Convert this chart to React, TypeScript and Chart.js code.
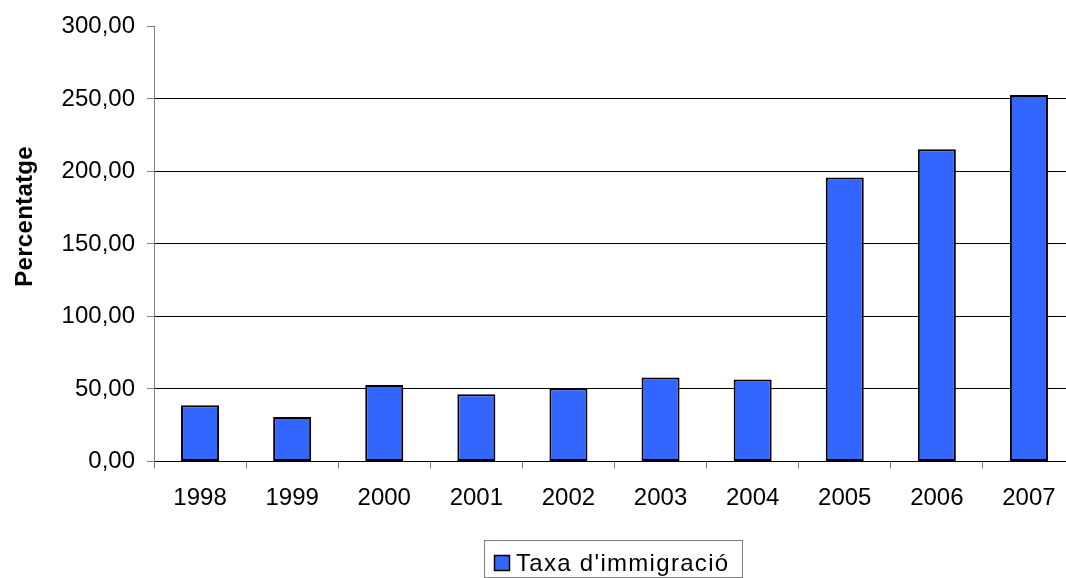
import React, { useEffect, useRef } from "react";
import { Chart, registerables } from "chart.js";

Chart.register(...registerables);

const years = ["1998", "1999", "2000", "2001", "2002", "2003", "2004", "2005", "2006", "2007"];
const immigrationRate = [38.8, 30.7, 52.8, 46.3, 50.5, 58.0, 56.6, 195.9, 215.3, 252.7];
const seriesLabel = "Taxa d'immigració";
const axisTitle = "Percentatge";
const yMin = 0;
const yMax = 300;
const yStep = 50;

const FONT = "'Liberation Sans', Arial, sans-serif";
const BAR_COLOR = "#3366FF";

const customDecor = {
  id: "customDecor",
  afterDraw(chart: any) {
    const ctx = chart.ctx as CanvasRenderingContext2D;
    const area = chart.chartArea;
    // Axis title (rotated)
    ctx.save();
    ctx.fillStyle = "#000";
    ctx.font = `bold 24px ${FONT}`;
    (ctx as any).letterSpacing = "0.3px";
    ctx.textAlign = "center";
    ctx.textBaseline = "alphabetic";
    ctx.translate(32, area.top + 190);
    ctx.rotate(-Math.PI / 2);
    ctx.fillText(axisTitle, 0, 0);
    ctx.restore();

    // Legend box
    const ds = chart.data.datasets[0];
    const cx = (area.left + area.right) / 2;
    const boxW = 258;
    const boxH = 37;
    const left = Math.round(cx - boxW / 2) - 1.5;
    const top = 540.5;
    ctx.save();
    ctx.strokeStyle = "#808080";
    ctx.lineWidth = 1;
    ctx.strokeRect(left, top, boxW, boxH);
    // marker
    ctx.fillStyle = ds.backgroundColor;
    ctx.fillRect(left + 10, top + 15, 15, 15);
    ctx.strokeStyle = "#000";
    ctx.lineWidth = 1.5;
    ctx.strokeRect(left + 10, top + 15, 15, 15);
    // text
    ctx.fillStyle = "#000";
    ctx.font = `24px ${FONT}`;
    (ctx as any).letterSpacing = "1.3px";
    ctx.textAlign = "left";
    ctx.textBaseline = "alphabetic";
    ctx.fillText(ds.label, left + 31.5, top + 30);
    ctx.restore();
  },
};

export default function App() {
  const canvasRef = useRef<HTMLCanvasElement | null>(null);

  useEffect(() => {
    const canvas = canvasRef.current;
    if (!canvas) return;
    const chart = new Chart(canvas, {
      type: "bar",
      data: {
        labels: years,
        datasets: [
          {
            label: seriesLabel,
            data: immigrationRate,
            backgroundColor: BAR_COLOR,
            borderColor: "#000",
            borderWidth: 2,
            borderSkipped: false,
            barPercentage: 0.413,
            categoryPercentage: 1,
          },
        ],
      },
      options: {
        responsive: false,
        animation: false,
        devicePixelRatio: 1,
        layout: { padding: { left: 0, right: 5, top: 23, bottom: 66.5 } },
        plugins: {
          legend: { display: false },
          tooltip: { enabled: false },
          title: { display: false },
        },
        scales: {
          x: {
            afterFit: (scale: any) => {
              scale.height = 50;
            },
            grid: {
              offset: true,
              drawOnChartArea: false,
              drawTicks: true,
              tickLength: 7,
              color: "#808080",
            },
            border: { display: true, color: "#000" },
            ticks: {
              color: "#000",
              font: { family: FONT, size: 24 },
              padding: 15,
              maxRotation: 0,
              autoSkip: false,
            },
          },
          y: {
            min: yMin,
            max: yMax,
            afterFit: (scale: any) => {
              scale.width = 154;
            },
            grid: {
              color: (c: any) => (c.tick && c.tick.value === yMax ? "rgba(0,0,0,0)" : "#000"),
              lineWidth: 1,
              drawTicks: true,
              tickLength: 7,
              tickColor: "#808080",
            },
            border: { display: true, color: "#808080" },
            ticks: {
              stepSize: yStep,
              color: "#000",
              font: { family: FONT, size: 24 },
              padding: 12,
              callback: (v: any) => Number(v).toFixed(2).replace(".", ","),
            },
          },
        },
      },
      plugins: [customDecor],
    });
    return () => chart.destroy();
  }, []);

  return (
    <div
      style={{
        position: "fixed",
        left: 0,
        top: 0,
        width: 1066,
        height: 578,
        overflow: "hidden",
        background: "#fff",
      }}
    >
      <canvas ref={canvasRef} width={1080} height={578} style={{ display: "block" }} />
    </div>
  );
}
